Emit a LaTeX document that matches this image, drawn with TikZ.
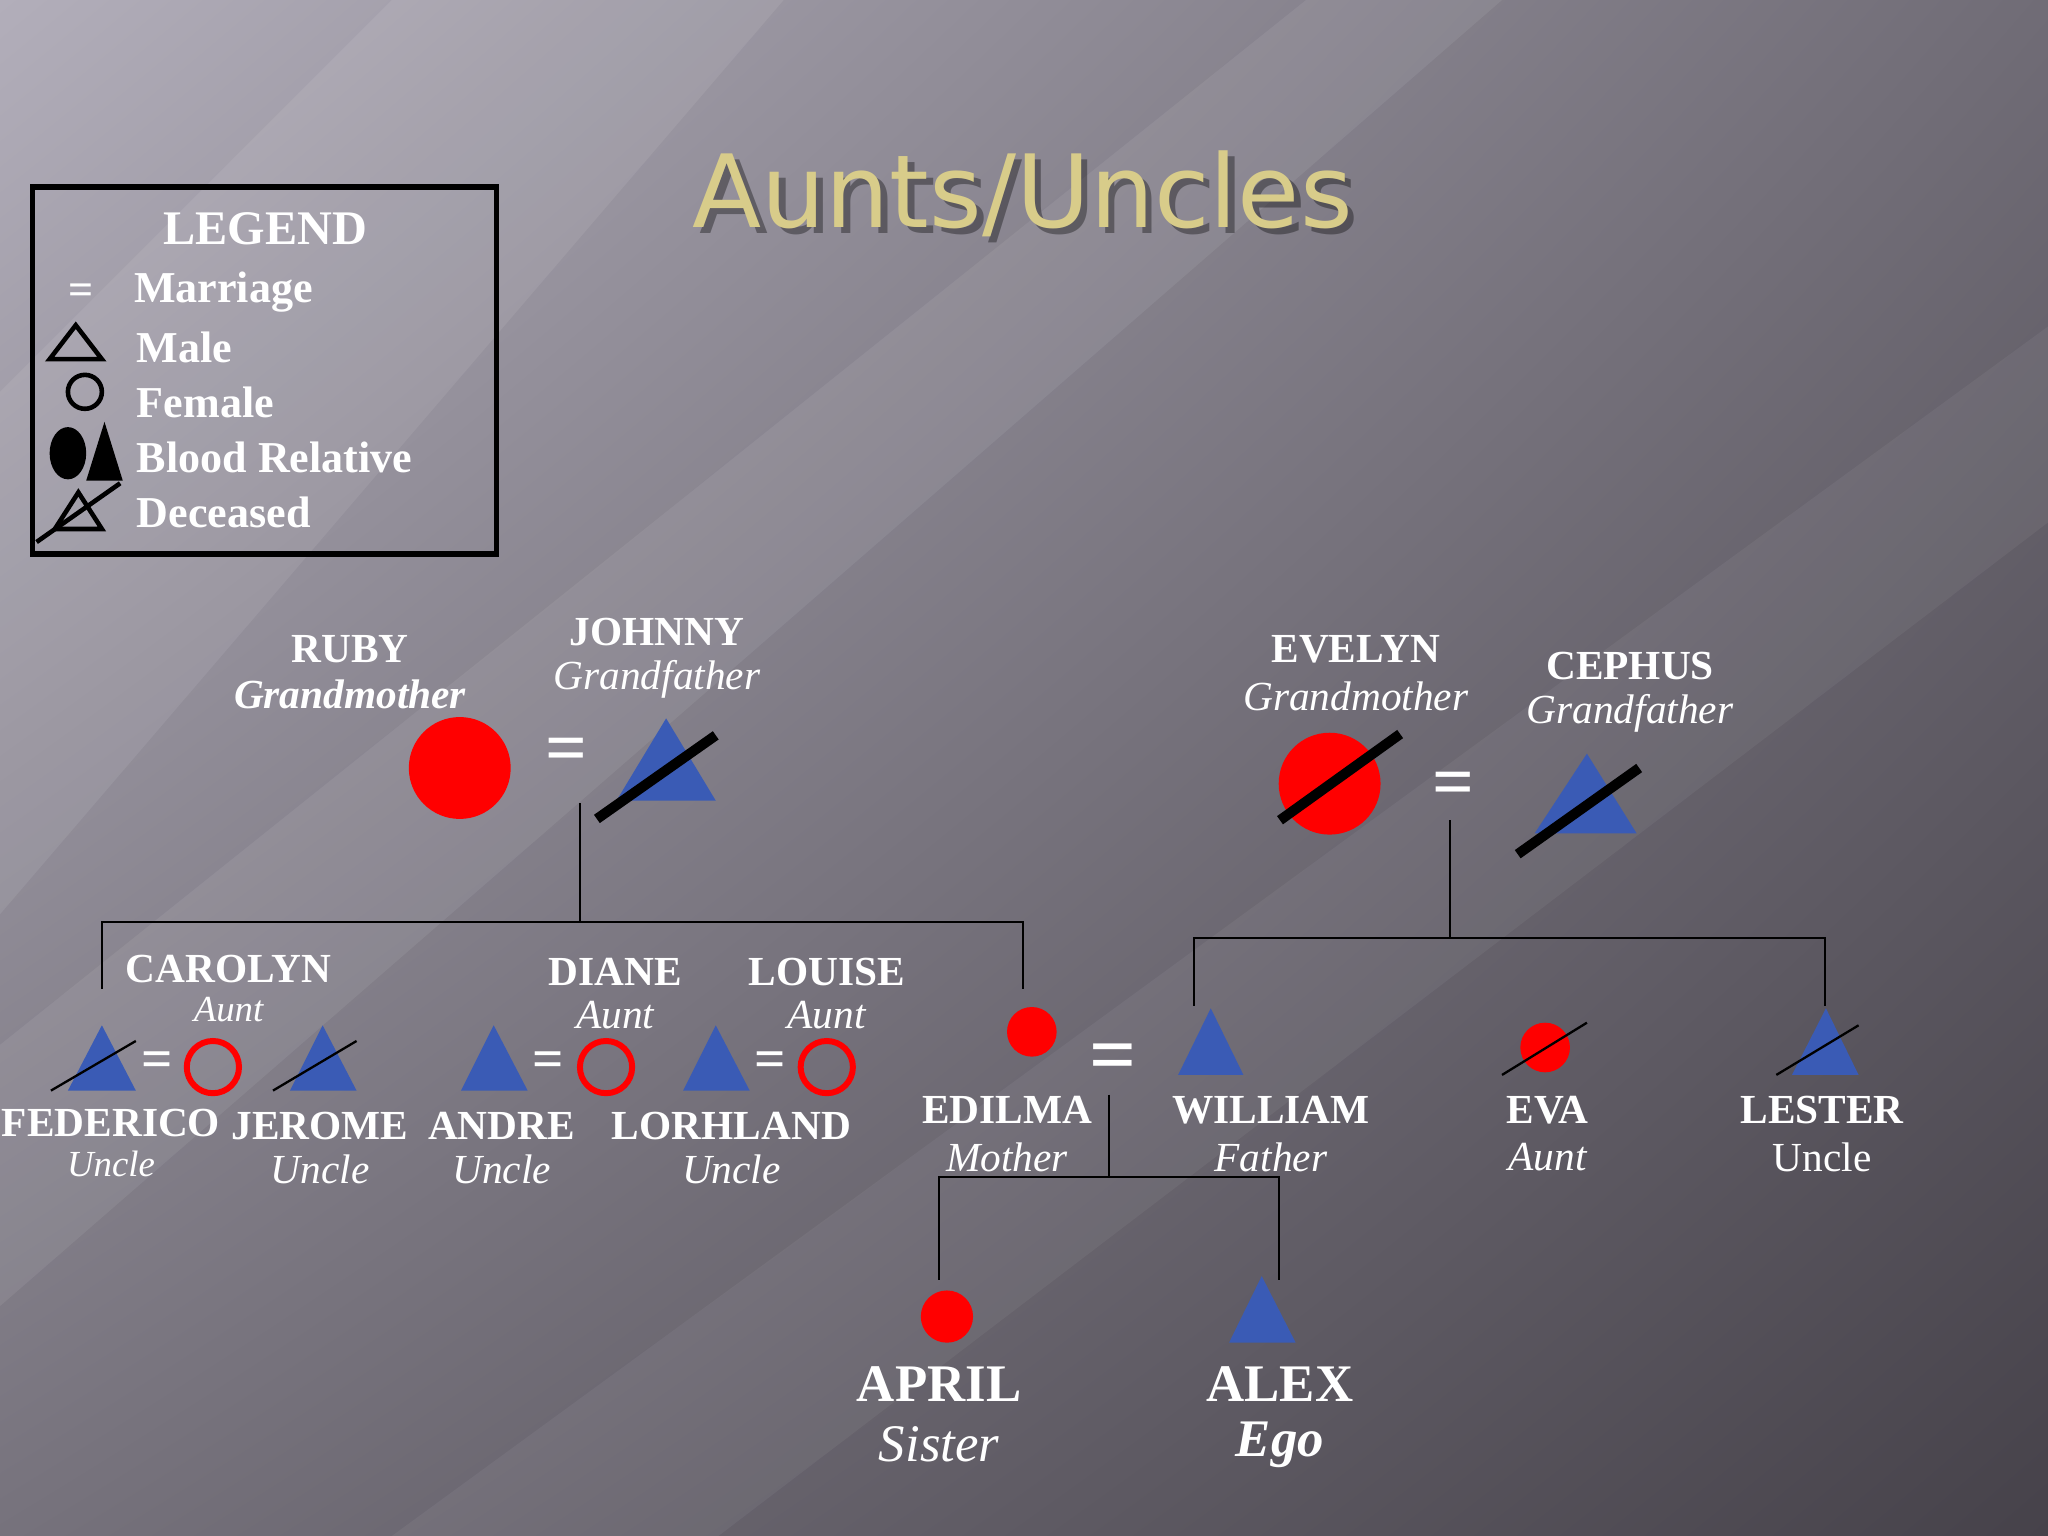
\documentclass[tikz,border=0pt]{standalone}
\usepackage{fontspec}
\setmainfont{Liberation Serif}
\newfontfamily\titlefont{DejaVu Sans}
\usetikzlibrary{shapes.geometric,shadings}
\definecolor{blu}{HTML}{3A5BB5}
\definecolor{gold}{HTML}{D8CC8A}
\definecolor{bgul}{RGB}{178,174,186}
\definecolor{bgur}{RGB}{112,108,118}
\definecolor{bgll}{RGB}{118,114,124}
\definecolor{bglr}{RGB}{70,66,74}
\begin{document}
\begin{tikzpicture}[x=0.01cm,y=-0.01cm,
  nm/.style={text=white,font=\fontsize{9}{10}\selectfont\bfseries,inner sep=0},
  rl/.style={text=white,font=\fontsize{9}{10}\selectfont\itshape,inner sep=0},
  big/.style={text=white,font=\fontsize{11.5}{13}\selectfont\bfseries,inner sep=0},
  bigr/.style={text=white,font=\fontsize{11.5}{13}\selectfont\itshape,inner sep=0},
  lg/.style={text=white,font=\fontsize{9.6}{11}\selectfont\bfseries,anchor=west,inner sep=0},
  eq/.style={text=white,font=\fontsize{12}{12}\selectfont\bfseries,inner sep=0},
  slash/.style={black,line width=2.2pt},
  thin/.style={black,line width=0.5pt},
  conn/.style={black,line width=0.45pt}]
\useasboundingbox (0,0) rectangle (1568,1176);
\shade[upper left=bgul,upper right=bgur,lower left=bgll,lower right=bglr] (0,0) rectangle (1568,1176);
\fill[white,opacity=0.08] (0,300) -- (300,0) -- (600,0) -- (0,700) -- cycle;
\fill[white,opacity=0.07] (0,800) -- (1000,0) -- (1150,0) -- (0,1000) -- cycle;
\fill[white,opacity=0.05] (300,1176) -- (1568,250) -- (1568,400) -- (550,1176) -- cycle;
% legend
\draw[black,line width=1.2pt] (25,143) rectangle (380,424);
\node[text=white,font=\fontsize{10.5}{12}\selectfont\bfseries,inner sep=0] (lgt) at (203,175) {LEGEND};
\node[lg] (l1s) at (52,225) {=};
\node[lg] (l1) at (102,224) {Marriage};
\draw[black,line width=1pt] (58,249) -- (78,275) -- (38,275) -- cycle;
\node[lg] (l2) at (104,266) {Male};
\draw[black,line width=1pt] (65,300) circle (13);
\node[lg] (l3) at (104,308) {Female};
\fill[black] (52,347) ellipse (14 and 20);
\fill[black] (80,323) -- (94,368) -- (66,368) -- cycle;
\node[lg] (l4) at (104,350) {Blood Relative};
\draw[black,line width=1pt] (60,377) -- (78,405) -- (42,405) -- cycle;
\draw[black,line width=1pt] (28,415) -- (92,370);
\node[lg] (l5) at (104,392) {Deceased};
% title
\node[text=black,opacity=0.35,font=\titlefont\fontsize{22}{24}\selectfont] at (788,153) {Aunts/Uncles};
\node[text=gold,font=\titlefont\fontsize{22}{24}\selectfont] (title) at (783,148) {Aunts/Uncles};
% grandparents left
\fill[red] (352,588) circle (39);
\node[nm] (rubyn) at (268,497) {RUBY};
\node[rl,font=\fontsize{9}{10}\selectfont\bfseries\itshape] (rubyr) at (268,532) {Grandmother};
\node[eq,font=\fontsize{16}{16}\selectfont\bfseries] (eq1) at (434,578) {=};
\fill[blu] (510,550) -- (548,613) -- (472,613) -- cycle;
\draw[slash] (457,627) -- (548,563);
\node[nm] (johnn) at (503,484) {JOHNNY};
\node[rl] (johnr) at (503,520) {Grandfather};
\coordinate (j1) at (444,615); \coordinate (j2) at (444,706);
\coordinate (h1) at (78,706); \coordinate (h2) at (783,706);
\coordinate (d1) at (78,757); \coordinate (d2) at (783,757);
\draw[conn] (j1) -- (j2);
\draw[conn] (d1) -- (h1) -- (h2) -- (d2);
% grandparents right
\fill[red] (1018,600) circle (39);
\draw[slash] (980,628) -- (1072,562);
\node[nm] (evn) at (1038,497) {EVELYN};
\node[rl] (evr) at (1038,533) {Grandmother};
\node[eq,font=\fontsize{16}{16}\selectfont\bfseries] (eq2) at (1113,604) {=};
\fill[blu] (1215,577) -- (1253,638) -- (1175,638) -- cycle;
\draw[slash] (1162,654) -- (1255,588);
\node[nm] (cen) at (1248,510) {CEPHUS};
\node[rl] (cer) at (1248,546) {Grandfather};
\coordinate (k1) at (1110,628); \coordinate (k2) at (1110,718);
\coordinate (g1) at (914,718); \coordinate (g2) at (1397,718);
\coordinate (e1) at (914,770); \coordinate (e2) at (1397,770);
\draw[conn] (k1) -- (k2);
\draw[conn] (e1) -- (g1) -- (g2) -- (e2);
% aunts/uncles row
\fill[blu] (78,785) -- (104,835) -- (52,835) -- cycle;
\draw[thin] (39,835) -- (104,797);
\node[eq] (eqa) at (120,815) {=};
\draw[red,line width=1.3pt] (163,817) circle (20);
\node[nm] (carn) at (175,742) {CAROLYN};
\node[rl,font=\fontsize{8}{9}\selectfont\itshape] (carr) at (175,773) {Aunt};
\fill[blu] (247,785) -- (273,835) -- (222,835) -- cycle;
\draw[thin] (209,835) -- (273,797);
\node[nm] (fedn) at (85,860) {FEDERICO};
\node[rl,font=\fontsize{8}{9}\selectfont\itshape] (fedr) at (85,891) {Uncle};
\node[nm] (jern) at (245,862) {JEROME};
\node[rl] (jerr) at (245,895) {Uncle};
\fill[blu] (378,785) -- (404,835) -- (353,835) -- cycle;
\node[eq] (eqb) at (420,815) {=};
\draw[red,line width=1.3pt] (464,817) circle (20);
\node[nm] (dian) at (471,744) {DIANE};
\node[rl] (diar) at (471,777) {Aunt};
\node[nm] (andn) at (384,862) {ANDRE};
\node[rl] (andr) at (384,895) {Uncle};
\fill[blu] (548,785) -- (574,835) -- (523,835) -- cycle;
\node[eq] (eqc) at (590,815) {=};
\draw[red,line width=1.3pt] (633,817) circle (20);
\node[nm] (loun) at (633,744) {LOUISE};
\node[rl] (lour) at (633,777) {Aunt};
\node[nm] (lorn) at (560,862) {LORHLAND};
\node[rl] (lorr) at (560,895) {Uncle};
% parents
\fill[red] (790,790) circle (19);
\node[nm] (edn) at (771,850) {EDILMA};
\node[rl] (edr) at (771,886) {Mother};
\node[eq,font=\fontsize{18}{18}\selectfont\bfseries] (eqp) at (852,814) {=};
\fill[blu] (927,772) -- (952,823) -- (902,823) -- cycle;
\node[nm] (wln) at (973,850) {WILLIAM};
\node[rl] (wlr) at (973,886) {Father};
\fill[red] (1183,802) circle (19);
\draw[thin] (1150,823) -- (1215,783);
\node[nm] (evan) at (1185,850) {EVA};
\node[rl] (evar) at (1185,886) {Aunt};
\fill[blu] (1398,772) -- (1423,823) -- (1372,823) -- cycle;
\draw[thin] (1360,823) -- (1423,785);
\node[nm] (lesn) at (1395,850) {LESTER};
\node[rl,font=\fontsize{9}{10}\selectfont] (lesr) at (1395,886) {Uncle};
\coordinate (p1) at (849,838); \coordinate (p2) at (849,901);
\coordinate (q1) at (719,901); \coordinate (q2) at (979,901);
\coordinate (r1) at (719,980); \coordinate (r2) at (979,980);
\draw[conn] (p1) -- (p2);
\draw[conn] (r1) -- (q1) -- (q2) -- (r2);
% children
\fill[red] (725,1008) circle (20);
\node[big] (apn) at (719,1060) {APRIL};
\node[bigr] (apr) at (719,1106) {Sister};
\fill[blu] (966,977) -- (992,1028) -- (941,1028) -- cycle;
\node[big] (aln) at (980,1060) {ALEX};
\node[bigr,font=\fontsize{11.5}{13}\selectfont\bfseries\itshape] (alr) at (980,1106) {Ego};
\end{tikzpicture}
\end{document}
